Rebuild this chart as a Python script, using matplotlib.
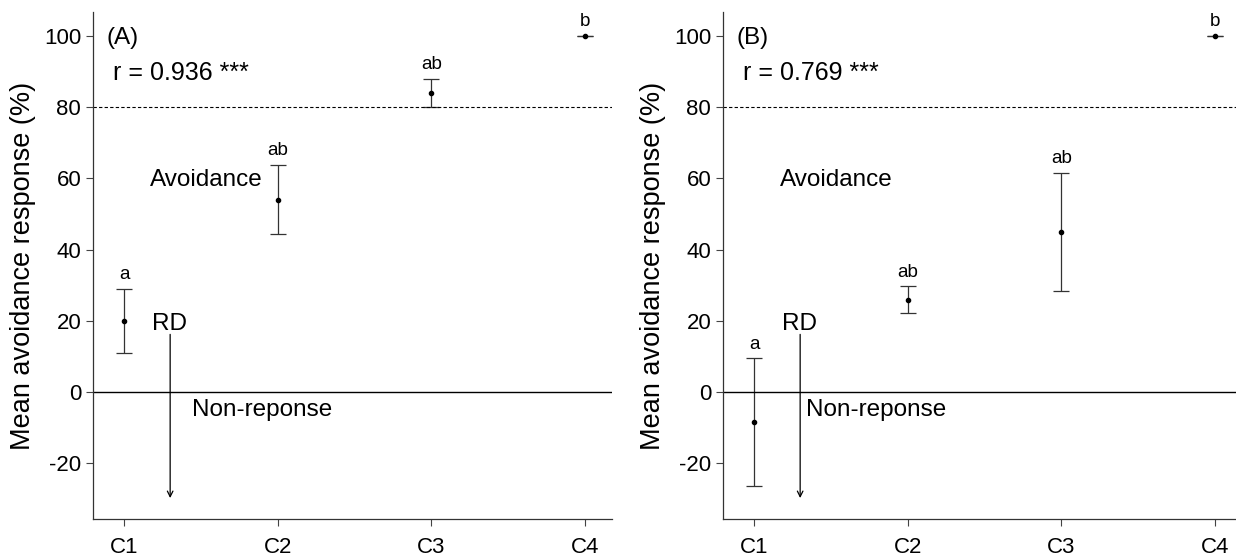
import numpy as np
import matplotlib
matplotlib.use('Agg')
import matplotlib.pyplot as plt

plt.rcParams['font.family'] = ['Liberation Sans', 'DejaVu Sans']
plt.rcParams['axes.unicode_minus'] = False

groups = ['C1', 'C2', 'C3', 'C4']

# panel A
mean_a = [20, 54, 84, 100]
low_a = [11, 44.3, 80, 100]
high_a = [29, 63.8, 88, 100]
letters_a = ['a', 'ab', 'ab', 'b']

# panel B
mean_b = [-8.5, 26, 45, 100]
low_b = [-26.3, 22.3, 28.5, 100]
high_b = [9.5, 29.7, 61.5, 100]
letters_b = ['a', 'ab', 'ab', 'b']

panels = [
    ('(A)', 'r = 0.936 ***', mean_a, low_a, high_a, letters_a),
    ('(B)', 'r = 0.769 ***', mean_b, low_b, high_b, letters_b),
]

fig = plt.figure(figsize=(12.36, 5.59), dpi=100)
lefts = [93 / 1236, 723 / 1236]
w = 519 / 1236

x = np.arange(1, 5)
for k, (tag, rtxt, m, lo, hi, lets) in enumerate(panels):
    ax = fig.add_axes([lefts[k], 40 / 559, w, 507 / 559])
    m = np.array(m); lo = np.array(lo); hi = np.array(hi)
    ax.errorbar(x, m, yerr=[m - lo, hi - m], fmt='o', color='black', ms=3,
                ecolor='#333333', elinewidth=0.9, capsize=6, capthick=0.9)
    for xi, h, t in zip(x, hi, lets):
        ax.text(xi, h + 1.6, t, ha='center', va='bottom', fontsize=13.5)
    ax.axhline(0, color='black', lw=1)
    ax.axhline(80, color='black', lw=0.8, ls=(0, (3, 2)))
    ax.annotate('', xy=(1.3, -30.5), xytext=(1.3, 17),
                arrowprops=dict(arrowstyle='->', lw=0.9, color='black'))
    ax.text(0.885, 99.5, tag, fontsize=17.5, ha='left', va='center')
    ax.text(0.93, 89.5, rtxt, fontsize=18, ha='left', va='center')
    ax.text(1.17, 59.5, 'Avoidance', fontsize=17.5, ha='left', va='center')
    ax.text(1.18, 19, 'RD', fontsize=17.5, ha='left', va='center')
    ax.text(1.44 if k == 0 else 1.34, -5, 'Non-reponse', fontsize=17.5,
            ha='left', va='center')

    ax.set_xlim(0.798, 4.175)
    ax.set_ylim(-35.6, 106.7)
    ax.set_xticks(x)
    ax.set_xticklabels(groups)
    ax.set_yticks([-20, 0, 20, 40, 60, 80, 100])
    ax.tick_params(labelsize=16, length=5, width=0.8, color='#444444')
    ax.tick_params(axis='x', pad=8)
    ax.spines['top'].set_visible(False)
    ax.spines['right'].set_visible(False)
    for s in ['left', 'bottom']:
        ax.spines[s].set_linewidth(0.9)
        ax.spines[s].set_color('#333333')
    ax.set_ylabel('Mean avoidance response (%)', fontsize=19.5, labelpad=6)

fig.savefig('out.png', dpi=100)
